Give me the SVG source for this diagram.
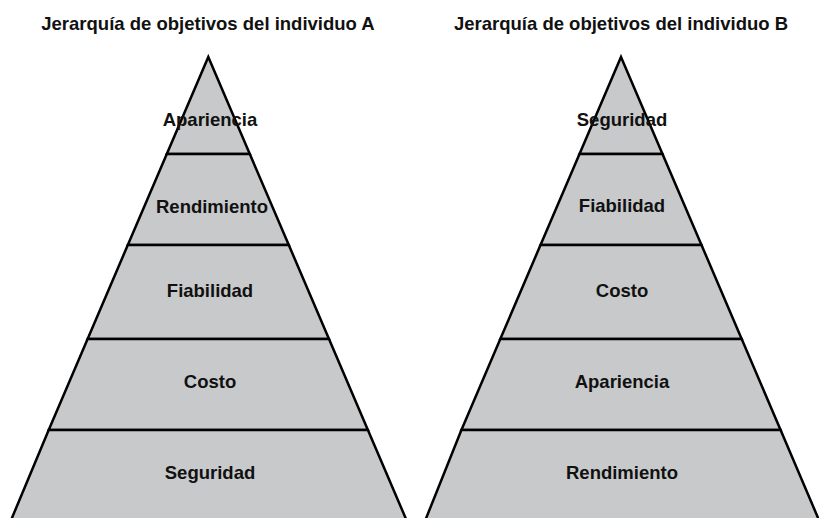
<svg xmlns="http://www.w3.org/2000/svg" width="819" height="518" viewBox="0 0 819 518">
<style>
.band{fill:#c8c9cb;stroke:#000;stroke-width:2.5;stroke-linejoin:miter;stroke-miterlimit:20}
.lbl{font-family:"Liberation Sans",Arial,sans-serif;font-weight:bold;font-size:18.5px;fill:#111;text-anchor:middle}
.ttl{font-family:"Liberation Sans",Arial,sans-serif;font-weight:bold;font-size:18.5px;fill:#111;text-anchor:middle}
</style>
<rect width="819" height="518" fill="#fff"/>
<text class="ttl" x="208" y="30">Jerarquía de objetivos del individuo A</text>
<text class="ttl" x="621" y="30">Jerarquía de objetivos del individuo B</text>
<g id="pyramidA">
<g id="A1"><polygon class="band" points="208.3,57 249.8,154 166.8,154"/><text class="lbl" x="210" y="126">Apariencia</text></g>
<g id="A2"><polygon class="band" points="166.8,154 249.8,154 288.8,245 127.8,245"/><text class="lbl" x="212" y="213">Rendimiento</text></g>
<g id="A3"><polygon class="band" points="127.8,245 288.8,245 329,339 87.6,339"/><text class="lbl" x="210" y="297">Fiabilidad</text></g>
<g id="A4"><polygon class="band" points="87.6,339 329,339 367.9,430 48.7,430"/><text class="lbl" x="210" y="388">Costo</text></g>
<g id="A5"><polygon class="band" points="48.7,430 367.9,430 409,526 8.6,526"/><text class="lbl" x="210" y="479">Seguridad</text></g>
</g>
<g id="pyramidB">
<g id="B1"><polygon class="band" points="621,57 662.5,154 579.5,154"/><text class="lbl" x="622" y="126">Seguridad</text></g>
<g id="B2"><polygon class="band" points="579.5,154 662.5,154 701.5,245 540.5,245"/><text class="lbl" x="622" y="212">Fiabilidad</text></g>
<g id="B3"><polygon class="band" points="540.5,245 701.5,245 741.7,339 500.3,339"/><text class="lbl" x="622" y="297">Costo</text></g>
<g id="B4"><polygon class="band" points="500.3,339 741.7,339 780.6,430 461.4,430"/><text class="lbl" x="622" y="388">Apariencia</text></g>
<g id="B5"><polygon class="band" points="461.4,430 780.6,430 821.5,526 423,526"/><text class="lbl" x="622" y="479">Rendimiento</text></g>
</g>
<g id="connectors"></g>
</svg>
